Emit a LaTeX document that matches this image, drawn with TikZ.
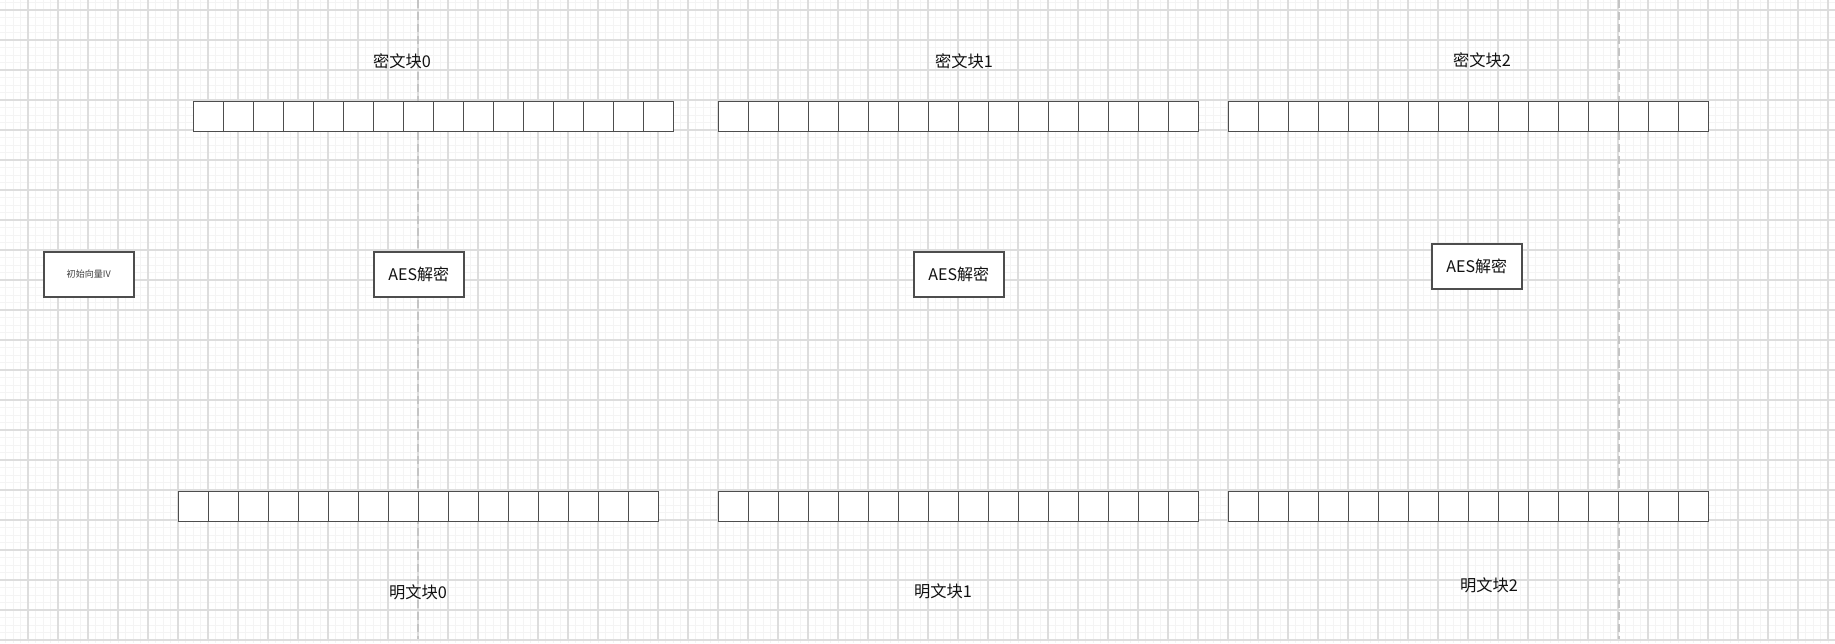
\documentclass[tikz,border=0pt]{standalone}
\usepackage{fontspec}
\setmainfont{Noto Sans CJK SC}
\definecolor{boxgray}{HTML}{4D4D4D}
\definecolor{majgrid}{HTML}{DDDDDD}
\definecolor{mingrid}{HTML}{F4F4F4}
\definecolor{pagebrk}{HTML}{C4C4C4}
\definecolor{txt}{HTML}{111111}
\tikzset{
  cell/.style={draw=boxgray, fill=white, line width=1.1pt, minimum width=22.5pt, minimum height=22.5pt, inner sep=0pt, anchor=north west},
  opbox/.style={draw=boxgray, fill=white, line width=1.2pt, minimum width=67.5pt, minimum height=33.75pt, inner sep=0pt, anchor=north west, text=txt, font=\fontsize{12pt}{14pt}\selectfont},
  ivbox/.style={opbox, font=\fontsize{6.8pt}{8pt}\selectfont, text=boxgray!80!black},
  lbl/.style={text=txt, inner sep=0pt, font=\fontsize{12.2pt}{14pt}\selectfont},
  minorline/.style={draw=mingrid, line width=0.75pt},
  majorline/.style={draw=majgrid, line width=0.9pt},
  breakline/.style={draw=pagebrk, line width=0.9pt, dash pattern=on 6pt off 3pt}
}
\begin{document}
\begin{tikzpicture}[x=0.75pt, y=-0.75pt]
\useasboundingbox (0,0) rectangle (1835,643);
\fill[white] (0,0) rectangle (1835,643);
% minor grid
\foreach \k in {-3,...,241} \draw[minorline] ({28+7.5*\k},0) -- ({28+7.5*\k},643);
\foreach \k in {-1,...,84} \draw[minorline] (0,{10+7.5*\k}) -- (1835,{10+7.5*\k});
% major grid
\foreach \k in {-1,...,60} \draw[majorline] ({28+30*\k},0) -- ({28+30*\k},640);
\foreach \k in {0,...,21} \draw[majorline] (0,{10+30*\k}) -- (1835,{10+30*\k});
% page breaks
\draw[breakline] (418,0) -- (418,640);
\draw[breakline] (1619,0) -- (1619,640);
\draw[draw=majgrid, line width=1.5pt] (0,640) -- (1835,640);
% byte cells
\foreach \r/\x/\y in {c0/193/101, c1/718/101, c2/1228/101, p0/178/491, p1/718/491, p2/1228/491}
  \foreach \k in {1,...,16}
    \node[cell] (\r-\k) at ({\x+30*(\k-1)},\y) {};
% labels
\node[lbl] (lc0) at (402,61) {密文块0};
\node[lbl] (lc1) at (964,61) {密文块1};
\node[lbl] (lc2) at (1482,60) {密文块2};
\node[lbl] (lp0) at (418,592) {明文块0};
\node[lbl] (lp1) at (943,591) {明文块1};
\node[lbl] (lp2) at (1489,585) {明文块2};
% boxes
\node[ivbox] (iv) at (43,251) {初始向量IV};
\node[opbox] (aes0) at (373,251) {AES解密};
\node[opbox] (aes1) at (913,251) {AES解密};
\node[opbox] (aes2) at (1431,243) {AES解密};
\end{tikzpicture}
\end{document}
